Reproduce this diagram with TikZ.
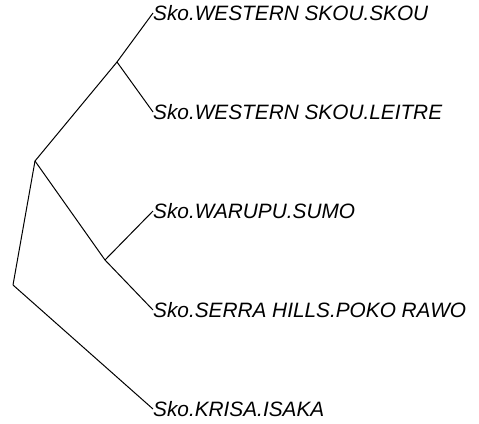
\documentclass[tikz,border=0pt]{standalone}
\usepackage{fontspec}
\setmainfont{Liberation Sans}
\usepackage{tikz}

\tikzset{
  tip/.style={anchor=west, inner sep=0pt, xshift=1pt, font=\fontsize{20.8}{24}\selectfont\itshape},
  branch/.style={line width=1pt}
}

\begin{document}
\begin{tikzpicture}[x=1pt, y=-1pt]
\useasboundingbox (0,0) rectangle (479,423);

% inner nodes of the tree
\coordinate (root) at (13,285);
\coordinate (a) at (35,161);
\coordinate (b) at (117,62);
\coordinate (c) at (105,260);

% tips
\node[tip] (skou) at (152,13) {Sko.WESTERN SKOU.SKOU};
\node[tip] (leitre) at (152,112) {Sko.WESTERN SKOU.LEITRE};
\node[tip] (sumo) at (152,211) {Sko.WARUPU.SUMO};
\node[tip] (poko) at (152,310) {Sko.SERRA HILLS.POKO RAWO};
\node[tip] (isaka) at (152,409) {Sko.KRISA.ISAKA};

\draw[branch] (root) -- (a);
\draw[branch] (root) -- (isaka.west);
\draw[branch] (a) -- (b);
\draw[branch] (a) -- (c);
\draw[branch] (b) -- (skou.west);
\draw[branch] (b) -- (leitre.west);
\draw[branch] (c) -- (sumo.west);
\draw[branch] (c) -- (poko.west);
\end{tikzpicture}
\end{document}
